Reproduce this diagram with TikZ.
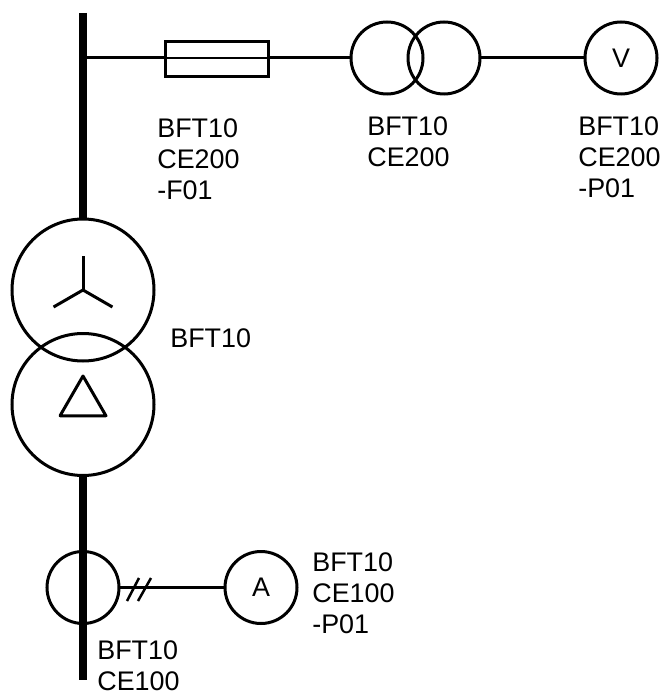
\documentclass[tikz,border=0pt]{standalone}
\usepackage{fontspec}
\setmainfont{Liberation Sans}
\usetikzlibrary{positioning}
\usetikzlibrary{shapes}
\tikzstyle{bigwinding}=[circle,draw,line width=0.06cm,minimum size=2.84cm,inner sep=0pt,outer sep=0pt]
\tikzstyle{smallwinding}=[circle,draw,line width=0.06cm,minimum size=1.44cm,inner sep=0pt,outer sep=0pt,font=\fontsize{15.3pt}{17.6pt}\selectfont]
\tikzstyle{fusebox}=[rectangle,draw,line width=0.06cm,minimum width=2.06cm,minimum height=0.7cm,inner sep=0pt,outer sep=0pt]
\tikzstyle{bus} = [draw,line width=0.16cm]
\tikzstyle{wire} = [draw,line width=0.06cm]
\tikzstyle{tag} = [anchor=north west,align=left,inner sep=0pt,font=\fontsize{15.3pt}{17.5pt}\selectfont]

\begin{document}
\begin{tikzpicture}
    \useasboundingbox (0,0) rectangle (13.26,-13.86);
    % First we draw the windings and meters
    \foreach \pos/\name/\kind/\label in {{(1.66,-5.80)/star/bigwinding/{}}, {(1.66,-8.09)/delta/bigwinding/{}},
    {(7.74,-1.16)/trleft/smallwinding/{}}, {(8.88,-1.16)/trright/smallwinding/{}}, {(12.42,-1.16)/voltmeter/smallwinding/V},
    {(1.66,-11.75)/ct/smallwinding/{}}, {(5.22,-11.75)/ammeter/smallwinding/A}}
        \node[\kind] (\name) at \pos {\label};
    \node[fusebox] (fuse) at (4.33,-1.19) { };

    \coordinate (bustop) at (1.66,-0.26);
    \coordinate (busend) at (1.66,-13.60);
    \coordinate (tap) at (1.66,-1.16);
    \coordinate (fusein) at (fuse.west |- tap);
    \coordinate (fuseout) at (fuse.east |- tap);

    % Bus bar, interrupted by the transformer
    \path[bus] (bustop) -- (star.north);
    \path[bus] (delta.south) -- (busend);

    % Connect everything with wires
    \foreach \source/ \dest in {tap/fusein, fuseout/trleft.west, trright.east/voltmeter.west, ct.east/ammeter.west}
        \path[wire] (\source) -- (\dest);
    \draw[line width=0.025cm] (fusein) -- (fuseout);

    % Star and delta signs
    \foreach \ang in {90,210,330}
        \draw[line width=0.06cm] (star.center) -- ++(\ang:0.68);
    \node[regular polygon,regular polygon sides=3,draw,line width=0.06cm,line join=round,minimum size=1.06cm,inner sep=0pt,outer sep=0pt] (triangle) at (1.66,-8.05) { };

    % Two strokes on the meter wire
    \draw[line width=0.05cm] (2.54,-12.02) -- (2.78,-11.56);
    \draw[line width=0.05cm] (2.76,-12.02) -- (3.02,-11.56);

    \node[tag] (labelfuse) at (3.14,-2.37) {BFT10\\CE200\\-F01};
    \node[tag] (labeltr) at (7.34,-2.33) {BFT10\\CE200};
    \node[tag] (labelvolt) at (11.56,-2.33) {BFT10\\CE200\\-P01};
    \node[tag] (labelmain) at (3.40,-6.56) {BFT10};
    \node[tag] (labelamp) at (6.24,-11.05) {BFT10\\CE100\\-P01};
    \node[tag] (labelct) at (1.94,-12.81) {BFT10\\CE100};
\end{tikzpicture}
\end{document}
